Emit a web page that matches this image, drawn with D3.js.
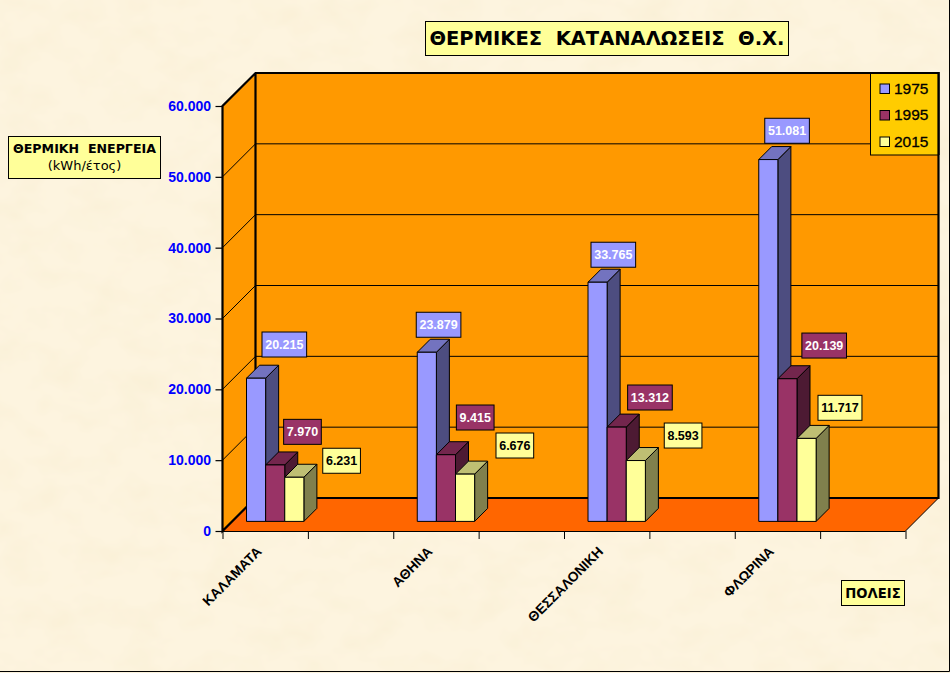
<!DOCTYPE html>
<html>
<head>
<meta charset="utf-8">
<script src="https://cdn.jsdelivr.net/npm/d3@7"></script>
<style>
  html, body { margin: 0; padding: 0; background: #fdf3de; overflow: hidden; }
  svg { display: block; }
  text { font-family: "Liberation Sans", Arial, sans-serif; white-space: pre; }
</style>
</head>
<body>
<div id="chart"></div>
<script>
const cities = ["ΚΑΛΑΜΑΤΑ", "", "ΑΘΗΝΑ", "", "ΘΕΣΣΑΛΟΝΙΚΗ", "", "ΦΛΩΡΙΝΑ", ""];
const years = ["1975", "1995", "2015"];
const values1975 = [20215, 23879, 33765, 51081];
const values1995 = [7970, 9415, 13312, 20139];
const values2015 = [6231, 6676, 8593, 11717];
const yTicks = [0, 10000, 20000, 30000, 40000, 50000, 60000];

// hand placed value boxes: left edge from bar left, top edge from bar top
const labelDx = [[15.5, -1, 3, 6], [18, 20, 20.5, 24], [38, 40.5, 38, 21]];
const labelDy = [[-46.2, -40, -40, -41.3], [-45.6, -49.7, -42.1, -45.7], [-29, -41.1, -37.5, -43.1]];

const width = 950;
const height = 673;
const depth = 33;
const barDepth = 13;
const barGap = (depth - barDepth) / 2;

const color = d3.scaleOrdinal().domain(years).range(["#9999ff", "#993366", "#ffff99"]);
const labelColor = d3.scaleOrdinal().domain(years).range(["#ffffff", "#ffffff", "#000000"]);
const seriesValues = [values1975, values1995, values2015];

const x = d3.scaleBand().domain(d3.range(cities.length)).range([222.5, 905.5]);
const xName = d3.scaleBand().domain(cities.map((c, i) => c || " ".repeat(i + 1))).range([222.5, 905.5]);
const xEdge = d3.scaleLinear().domain([0, cities.length]).range([222.5, 905.5]);
const xSeries = d3.scaleBand().domain(years).range([14, x.bandwidth() - 14]);
const y = d3.scaleLinear().domain([0, 60000]).range([531, 106]);

const locale = d3.formatLocale({ decimal: ",", thousands: ".", grouping: [3], currency: ["", ""] });
const fmt = locale.format(",d");

const svg = d3.select("#chart").append("svg")
  .attr("width", width)
  .attr("height", height);

// paper texture
const filter = svg.append("defs").append("filter")
  .attr("id", "paper")
  .attr("x", 0).attr("y", 0).attr("width", "100%").attr("height", "100%");
filter.append("feTurbulence")
  .attr("type", "fractalNoise")
  .attr("baseFrequency", "0.025 0.035")
  .attr("numOctaves", 3)
  .attr("seed", 7);
filter.append("feColorMatrix")
  .attr("type", "matrix")
  .attr("values", "0 0 0 0 0.93  0 0 0 0 0.84  0 0 0 0 0.62  0.9 0 0 0 -0.36");

svg.append("rect").attr("width", width).attr("height", height).attr("fill", "#fdf4df");
svg.append("rect").attr("width", width).attr("height", height).attr("filter", "url(#paper)");
svg.append("path").attr("d", `M0,671.5H949.5V0`).attr("fill", "none").attr("stroke", "#000");

const x0 = xEdge(0), x1 = xEdge(cities.length);
const y0 = y(0), yTop = y(60000);

// walls and floor
svg.append("path")
  .attr("d", `M${x0},${y0}V${yTop}L${x0 + depth},${yTop - depth}H${x1 + depth}V${y0 - depth}H${x0 + depth}Z`)
  .attr("fill", "#ff9900");
svg.append("path")
  .attr("d", `M${x0},${y0}L${x0 + depth},${y0 - depth}H${x1 + depth}L${x1},${y0}Z`)
  .attr("fill", "#ff6600");

// gridlines
svg.append("g").selectAll("path")
  .data(yTicks.slice(1, -1))
  .enter()
  .append("path")
  .attr("d", d => `M${x0},${y(d)}L${x0 + depth},${y(d) - depth}H${x1 + depth}`)
  .attr("fill", "none")
  .attr("stroke", "#000")
  .attr("stroke-width", 1);

// frame
svg.append("path")
  .attr("d", `M${x0},${y0}V${yTop}L${x0 + depth},${yTop - depth}H${x1 + depth}V${y0 - depth}H${x0 + depth}Z M${x0 + depth},${y0 - depth}V${yTop - depth}`)
  .attr("fill", "none")
  .attr("stroke", "#000")
  .attr("stroke-width", 2.2);
svg.append("path")
  .attr("d", `M${x1},${y0}L${x1 + depth},${y0 - depth}`)
  .attr("stroke", "#000");

// axes
const yAxis = svg.append("g")
  .attr("transform", `translate(${x0},0)`)
  .call(d3.axisLeft(y).tickValues(yTicks).tickSize(7).tickPadding(4.5).tickFormat(fmt));
yAxis.select(".domain").remove();
yAxis.selectAll("line").attr("stroke", "#000").attr("stroke-width", 1.2);
yAxis.selectAll("text")
  .attr("fill", "#0000ff")
  .style("font-size", "14px")
  .style("font-weight", "bold");

const xAxis = svg.append("g")
  .attr("transform", `translate(0,${y0})`)
  .call(d3.axisBottom(xEdge).tickValues(d3.range(cities.length + 1)).tickSize(8).tickFormat(""));
xAxis.selectAll("path, line").attr("stroke", "#000").attr("stroke-width", 1);
xAxis.select(".domain").attr("d", `M${x0},0.5H${x1}`);

const nameAxis = svg.append("g")
  .attr("transform", `translate(0,${y0})`)
  .call(d3.axisBottom(xName).tickSize(0).tickFormat(d => d.trim()));
nameAxis.select(".domain").remove();
nameAxis.selectAll("text")
  .attr("text-anchor", "end")
  .attr("transform", "translate(-6,18) rotate(-45)")
  .attr("dy", "0.35em")
  .attr("y", 0)
  .attr("fill", "#000")
  .style("font-size", "13.8px")
  .style("font-weight", "bold");

// 3D bars, left to right so each one covers the side of the previous
const cityIndex = cities.map((c, i) => i).filter(i => cities[i]);
const bars = [];
cityIndex.forEach((ci, g) => {
  years.forEach((yr, s) => {
    bars.push({ g, ci, yr, s, value: seriesValues[s][g] });
  });
});

const shade = (name, k) => {
  const c = d3.rgb(color(name));
  return d3.rgb(c.r * k, c.g * k, c.b * k).formatHex();
};
const barX = d => x(d.ci) + xSeries(d.yr) + barGap;
const barBase = y(0) - barGap + 0.4;
const barTop = d => y(d.value) - barGap + 0.4;
const w = xSeries.bandwidth();

const barG = svg.append("g").selectAll("g")
  .data(bars)
  .enter()
  .append("g")
  .attr("stroke", "#000")
  .attr("stroke-width", 1)
  .attr("stroke-linejoin", "round");

barG.append("path")
  .attr("d", d => `M${barX(d) + w},${barBase}l${barDepth},${-barDepth}V${barTop(d) - barDepth}l${-barDepth},${barDepth}Z`)
  .attr("fill", d => shade(d.yr, 0.5));
barG.append("path")
  .attr("d", d => `M${barX(d)},${barTop(d)}l${barDepth},${-barDepth}h${w}l${-barDepth},${barDepth}Z`)
  .attr("fill", d => shade(d.yr, 0.75));
barG.append("rect")
  .attr("x", barX)
  .attr("y", barTop)
  .attr("width", w)
  .attr("height", d => barBase - barTop(d))
  .attr("fill", d => color(d.yr));

// value boxes
const valueBox = svg.append("g").selectAll("g")
  .data(bars)
  .enter()
  .append("g")
  .attr("transform", d => `translate(${barX(d) + labelDx[d.s][d.g]},${barTop(d) + labelDy[d.s][d.g]})`);
valueBox.append("rect")
  .attr("height", 25)
  .attr("fill", d => color(d.yr))
  .attr("stroke", "#000")
  .attr("stroke-width", 1);
const valueText = valueBox.append("text")
  .attr("x", 3.2)
  .attr("y", 17)
  .attr("fill", d => labelColor(d.yr))
  .style("font-size", "12.5px")
  .style("font-weight", "bold")
  .text(d => fmt(d.value));
valueText.each(function () {
  const len = this.getComputedTextLength();
  d3.select(this.parentNode).select("rect").attr("width", len + 6.4);
});

// legend
svg.append("rect")
  .attr("x", 870.5).attr("y", yTop - depth)
  .attr("width", x1 + depth - 870.5).attr("height", 82)
  .attr("fill", "#ffcc00").attr("stroke", "#000").attr("stroke-width", 1);
svg.append("path")
  .attr("d", `M870.5,${yTop - depth}H${x1 + depth}V155`)
  .attr("fill", "none").attr("stroke", "#000").attr("stroke-width", 2.2);
const legendY = d3.scalePoint().domain(years).range([89, 142]);
const legend = svg.append("g").selectAll("g")
  .data(years)
  .enter()
  .append("g")
  .attr("transform", d => `translate(880,${legendY(d)})`);
legend.append("rect")
  .attr("y", -5).attr("width", 9.5).attr("height", 9.5)
  .attr("fill", d => color(d)).attr("stroke", "#000");
legend.append("text")
  .attr("x", 14).attr("y", 4.5)
  .style("font-size", "15.5px")
  .text(d => d)
  .attr("fill", "#000")
  .attr("stroke", "#000")
  .attr("stroke-width", 0.3);

// captions
function caption(bx, by, bw, bh) {
  const g = svg.append("g");
  g.append("rect")
    .attr("x", bx).attr("y", by).attr("width", bw).attr("height", bh)
    .attr("fill", "#ffff99").attr("stroke", "#000");
  return g.append("text")
    .attr("text-anchor", "middle")
    .attr("x", bx + bw / 2)
    .attr("fill", "#000")
    .style("font-family", '"DejaVu Sans", sans-serif');
}
caption(425.5, 21.5, 363, 34)
  .attr("y", 45)
  .style("font-size", "19.5px")
  .style("font-weight", "bold")
  .text("ΘΕΡΜΙΚΕΣ  ΚΑΤΑΝΑΛΩΣΕΙΣ  Θ.Χ.");
caption(8.5, 136.5, 152, 42)
  .attr("y", 153)
  .style("font-size", "12.6px")
  .style("font-weight", "bold")
  .text("ΘΕΡΜΙΚΗ  ΕΝΕΡΓΕΙΑ");
svg.append("text")
  .attr("text-anchor", "middle")
  .attr("x", 84.5).attr("y", 170)
  .attr("fill", "#000")
  .style("font-family", '"DejaVu Sans", sans-serif')
  .style("font-size", "13px")
  .text("(kWh/έτος)");
caption(841.5, 580.5, 63, 25)
  .attr("y", 597.5)
  .style("font-size", "13.2px")
  .style("font-weight", "bold")
  .text("ΠΟΛΕΙΣ");
</script>
</body>
</html>
